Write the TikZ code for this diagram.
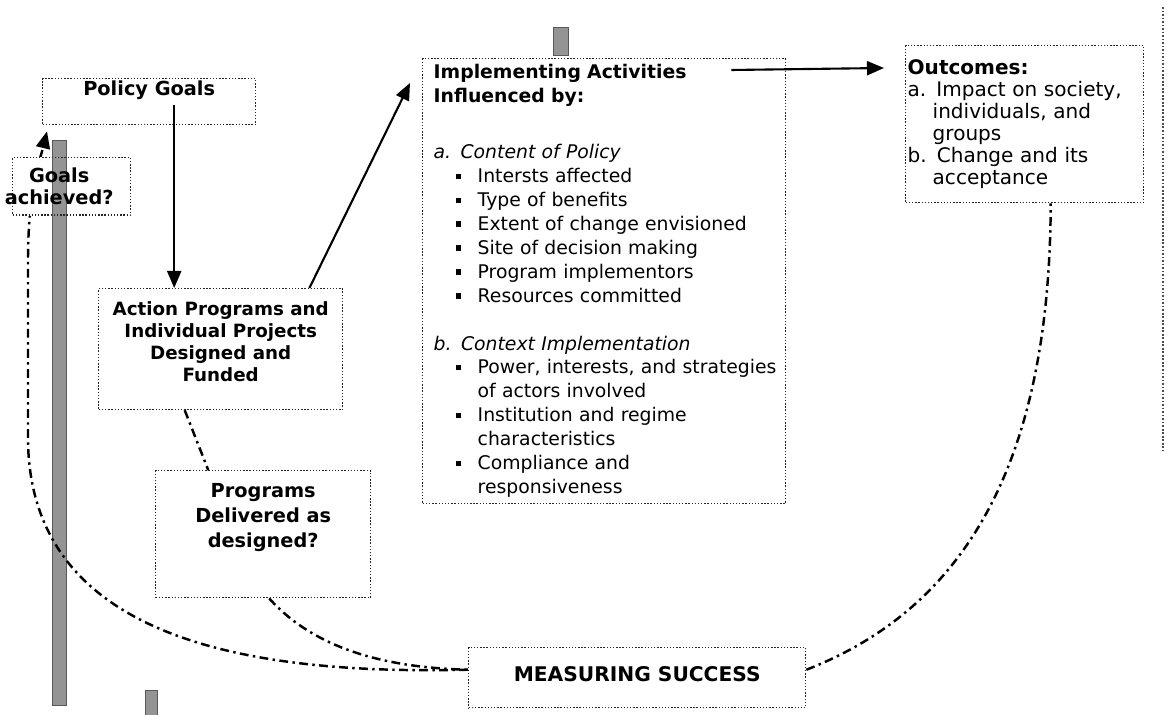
\documentclass[tikz,border=0pt]{standalone}
\usepackage{fontspec}
\setmainfont{DejaVu Sans}
\usepackage{tikz}
\usetikzlibrary{arrows.meta,positioning,calc}

\newcommand{\sqitem}{\hspace*{0.44cm}\rule[0.07cm]{0.11cm}{0.11cm}\hspace*{0.33cm}}
\newcommand{\hangin}{\hspace*{0.88cm}}
\newcommand{\outin}{\hspace*{0.5cm}}
\newcommand{\leftish}[1]{\makebox[0pt]{\hspace*{-0.5cm}#1}}

\begin{document}
\begin{tikzpicture}
[box/.style={draw=black!85,densely dotted,line width=0.8pt,inner sep=0pt},
 hd/.style={font=\fontsize{11}{13}\selectfont\bfseries},
 flow/.style={->,line width=1.2pt,>={Triangle[length=3.4mm,width=2.8mm]}},
 loopline/.style={line width=1.4pt,dash pattern=on 5pt off 2.5pt on 1.4pt off 2.5pt},
 bar/.style={fill=black!42,draw=black!65,line width=0.4pt}]

\useasboundingbox (0,0) rectangle (23.5,-14.3);

% grey strips of the scan
\filldraw[bar] (1.04,-2.8) rectangle (1.32,-14.1);
\filldraw[bar] (11.06,-0.54) rectangle (11.36,-1.1);
\filldraw[bar] (2.9,-13.8) rectangle (3.14,-14.3);
\draw[black!70,densely dotted,line width=1pt] (23.26,-0.14) -- (23.26,-9);

% boxes
\node[box,hd,anchor=north west,minimum width=4.26cm,text height=0.26cm,text depth=0.5cm,inner ysep=0.08cm] (pg) at (0.84,-1.56) {Policy Goals};

\node[box,hd,anchor=north west,minimum width=2.36cm,inner ysep=0.2cm,align=center,font=\fontsize{11}{12.8}\selectfont\bfseries] (ga) at (0.24,-3.14) {\leftish{Goals}\\\leftish{achieved?}};

\node[box,anchor=north west,minimum width=4.88cm,inner ysep=0.26cm,text depth=0.3cm,align=center,font=\fontsize{10.4}{12.5}\selectfont\bfseries] (ap) at (1.96,-5.76) {Action Programs and\\Individual Projects\\Designed and\\Funded};

\node[box,anchor=north west,minimum width=4.3cm,inner ysep=0.26cm,text depth=0.74cm,align=center,font=\fontsize{11}{14.2}\selectfont\bfseries] (pd) at (3.1,-9.4) {Programs\\Delivered as\\designed?};

\node[box,anchor=north west,text width=6.82cm,inner xsep=0.22cm,inner ysep=0.12cm,align=left,font=\fontsize{10.7}{13.6}\selectfont] (ia) at (8.44,-1.16) {%
\textbf{Implementing Activities}\\
\textbf{Influenced by:}\\[0.64cm]
\textit{a. Content of Policy}\\
\sqitem Intersts affected\\
\sqitem Type of benefits\\
\sqitem Extent of change envisioned\\
\sqitem Site of decision making\\
\sqitem Program implementors\\
\sqitem Resources committed\\[0.48cm]
\textit{b. Context Implementation}\\
\sqitem \mbox{Power, interests, and strategies}\\
\hangin of actors involved\\
\sqitem Institution and regime\\
\hangin characteristics\\
\sqitem Compliance and\\
\hangin responsiveness};

\node[box,anchor=north west,text width=4.68cm,inner xsep=0.04cm,inner ysep=0.28cm,align=left,font=\fontsize{11.4}{12.5}\selectfont] (oc) at (18.1,-0.9) {%
\textbf{Outcomes:}\\
a. Impact on society,\\
\outin individuals, and\\
\outin groups\\
b. Change and its\\
\outin acceptance};

\node[box,anchor=north west,minimum width=6.74cm,inner ysep=0.38cm,text depth=0.14cm,font=\fontsize{11.5}{13}\selectfont\bfseries] (ms) at (9.36,-12.94) {MEASURING SUCCESS};

% solid arrows
\coordinate (pgs) at ([xshift=0.5cm,yshift=0.4cm]pg.south);
\draw[flow] (pgs) -- (pgs |- ap.north);
\draw[flow] ([xshift=-0.68cm]ap.north east) -- ([xshift=-0.24cm,yshift=-0.5cm]ia.north west);
\draw[flow] ([xshift=-1.1cm,yshift=-0.24cm]ia.north east) -- ([xshift=-0.42cm,yshift=-0.46cm]oc.north west);

% measuring loops
\coordinate (msl) at ([yshift=0.16cm]ms.west);
\coordinate (msr) at ([yshift=0.16cm]ms.east);
\draw[loopline] ([xshift=-0.72cm]ap.south) -- ([xshift=-1.1cm]pd.north);
\draw[loopline] ([xshift=0.12cm]pd.south) .. controls (6.4,-13.1) and (8,-13.36) .. (msl);
\draw[loopline] (msr) .. controls (19.2,-12.2) and (21,-9.4) .. ([xshift=0.52cm]oc.south);
\begin{scope}[even odd rule]
\clip (0,0) rectangle (23.5,-14.3) (ga.north west) rectangle (ga.south east);
\draw[loopline,->,>={Triangle[length=3.4mm,width=2.8mm]}] (msl) .. controls (5,-13.5) and (0.6,-12.8) .. (0.56,-8.8) -- (0.56,-5.2) .. controls (0.56,-3.8) and (0.8,-3.2) .. ([xshift=0.1cm,yshift=-0.12cm]pg.south west);
\end{scope}
\end{tikzpicture}
\end{document}
